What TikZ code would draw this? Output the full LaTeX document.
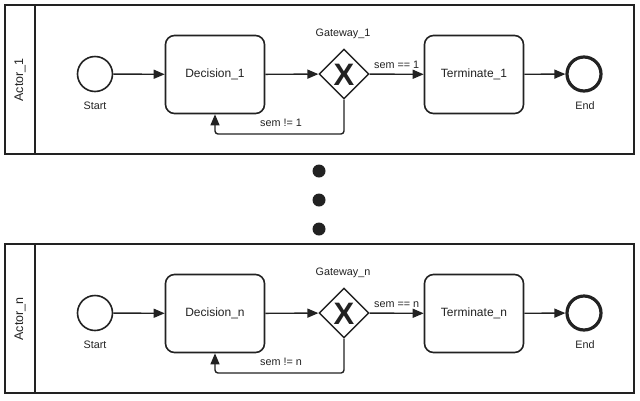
\documentclass[tikz,border=0pt]{standalone}
\usepackage{fontspec}
\setmainfont{Liberation Sans}
\usetikzlibrary{arrows.meta, shapes.geometric, positioning}
\definecolor{ink}{HTML}{222222}
\tikzset{
    pool/.style={draw=ink, line width=1.2pt},
    task/.style={draw=ink, line width=1.6pt, rounded corners=9pt, minimum width=99pt, minimum height=78pt, font=\fontsize{12}{14}\selectfont, text=ink},
    startev/.style={circle, draw=ink, line width=1.6pt, minimum size=35pt, inner sep=0pt},
    endev/.style={circle, draw=ink, line width=3.2pt, minimum size=34pt, inner sep=0pt},
    gate/.style={diamond, aspect=1, draw=ink, line width=1.4pt, minimum size=50pt, inner sep=0pt},
    flow/.style={draw=ink, line width=1.4pt, -{Triangle[length=11pt,width=9pt]}},
    lbl/.style={font=\fontsize{10.8}{13}\selectfont, text=ink}
}
\begin{document}
\begin{tikzpicture}[x=1pt, y=-1pt]
    \useasboundingbox (0,0) rectangle (640,400);
    \foreach \k/\dy in {1/0, n/239}{
    \begin{scope}[yshift=-\dy pt]
    % pool and lane header
    \draw[pool] (5,5) rectangle (634,154);
    \draw[pool] (35,5) -- (35,154);
    \node[lbl, font=\fontsize{12.5}{14}\selectfont, rotate=90] (actor\k) at (20,80) {Actor\_\k};
    % events, tasks, gateway
    \node[startev] (start\k) at (95,74) {};
    \node[lbl] (startlbl\k) at (95,106) {Start};
    \node[task] (dec\k) at (215,74.5) {Decision\_\k};
    \node[gate] (gw\k) at (344,74) {};
    \node[font=\fontsize{31}{31}\selectfont\bfseries, text=ink] (gwx\k) at (344,75) {X};
    \node[lbl] (gwlbl\k) at (343,34) {Gateway\_\k};
    \node[task] (term\k) at (474,74.5) {Terminate\_\k};
    \node[endev] (end\k) at (584,74) {};
    \node[lbl] (endlbl\k) at (585,106) {End};
    % flows
    \draw[flow] (start\k) -- (dec\k);
    \draw[flow] (dec\k) -- (gw\k);
    \draw[flow] (gw\k) -- node[lbl, above=2pt, xshift=0pt] (yes\k) {sem == \k} (term\k);
    \draw[flow] (term\k) -- (end\k);
    \draw[flow, rounded corners=3pt] (gw\k.south) -- (gw\k.south |- 0,134) -| (dec\k.south);
    \node[lbl] (no\k) at (281,123) {sem != \k};
    \end{scope}
    }
    % dots between the pools
    \foreach \y in {171,200,229}
        \fill[ink] (319,\y) circle (6.5pt);
\end{tikzpicture}
\end{document}
